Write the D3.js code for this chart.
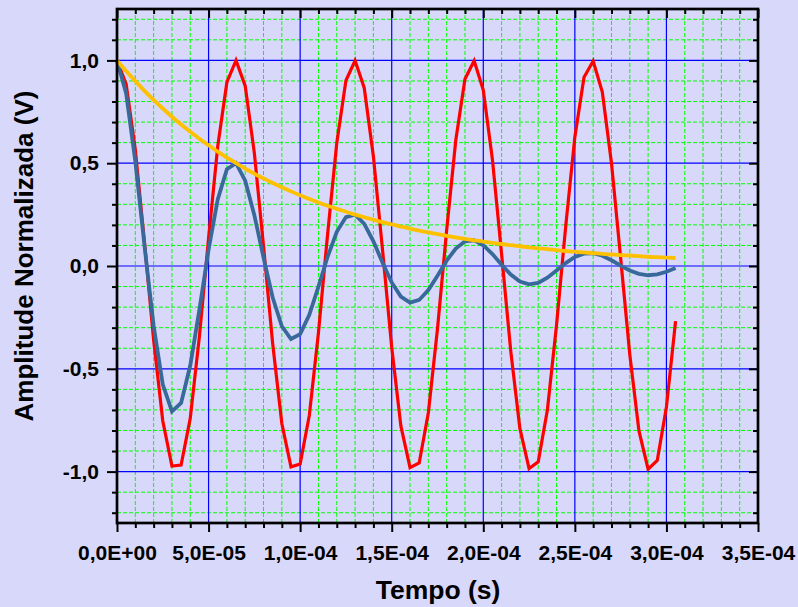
<!DOCTYPE html>
<html>
<head>
<meta charset="utf-8">
<script src="https://cdn.jsdelivr.net/npm/d3@7"></script>
<style>
  body { margin: 0; background: #d8d8fa; }
  svg { display: block; }
  text { font-family: Arial, "Liberation Sans", sans-serif; font-weight: bold; fill: #000; }
</style>
</head>
<body>
<svg id="chart" width="798" height="607"></svg>
<script>
// sample times in microseconds
const timeUs = [0, 5, 10, 15, 20, 25, 30, 35, 40, 45, 50, 55, 60, 65, 70, 75, 80, 85, 90, 95,
  100, 105, 110, 115, 120, 125, 130, 135, 140, 145, 150, 155, 160, 165, 170, 175, 180, 185, 190, 195,
  200, 205, 210, 215, 220, 225, 230, 235, 240, 245, 250, 255, 260, 265, 270, 275, 280, 285, 290, 295,
  300, 305];

// undamped signal (red)
const signalRed = [1.000, 0.885, 0.566, 0.116, -0.360, -0.754, -0.973, -0.968, -0.741, -0.342,
  0.135, 0.582, 0.894, 1.000, 0.876, 0.549, 0.097, -0.378, -0.766, -0.977,
  -0.963, -0.727, -0.324, 0.155, 0.598, 0.902, 0.999, 0.866, 0.533, 0.077,
  -0.396, -0.778, -0.981, -0.958, -0.714, -0.305, 0.174, 0.613, 0.910, 0.998,
  0.856, 0.517, 0.058, -0.414, -0.791, -0.985, -0.952, -0.700, -0.287, 0.193,
  0.628, 0.918, 0.997, 0.846, 0.500, 0.039, -0.431, -0.802, -0.988, -0.946,
  -0.686, -0.268];

// damped signal (blue)
const signalBlue = [1.000, 0.839, 0.509, 0.099, -0.291, -0.577, -0.707, -0.666, -0.484, -0.212,
  0.079, 0.324, 0.471, 0.500, 0.415, 0.247, 0.041, -0.153, -0.293, -0.355,
  -0.331, -0.237, -0.100, 0.045, 0.166, 0.238, 0.250, 0.205, 0.120, 0.016,
  -0.080, -0.149, -0.178, -0.165, -0.117, -0.047, 0.026, 0.085, 0.120, 0.125,
  0.101, 0.058, 0.006, -0.042, -0.076, -0.089, -0.082, -0.057, -0.022, 0.014,
  0.044, 0.060, 0.062, 0.050, 0.028, 0.002, -0.022, -0.038, -0.045, -0.041,
  -0.028, -0.010];

// envelope (yellow)
const envelope = [1.000, 0.948, 0.899, 0.852, 0.808, 0.766, 0.726, 0.688, 0.653, 0.619,
  0.587, 0.556, 0.527, 0.500, 0.474, 0.449, 0.426, 0.404, 0.383, 0.363,
  0.344, 0.326, 0.309, 0.293, 0.278, 0.264, 0.250, 0.237, 0.225, 0.213,
  0.202, 0.192, 0.182, 0.172, 0.163, 0.155, 0.147, 0.139, 0.132, 0.125,
  0.119, 0.112, 0.107, 0.101, 0.096, 0.091, 0.086, 0.082, 0.077, 0.073,
  0.070, 0.066, 0.063, 0.059, 0.056, 0.053, 0.051, 0.048, 0.045, 0.043,
  0.041, 0.039];

const xMajor = [0, 5e-5, 1e-4, 1.5e-4, 2e-4, 2.5e-4, 3e-4, 3.5e-4];
const xTickLabels = ["0,0E+00", "5,0E-05", "1,0E-04", "1,5E-04", "2,0E-04", "2,5E-04", "3,0E-04", "3,5E-04"];
const yMajor = [-1, -0.5, 0, 0.5, 1];
const yTickLabels = ["-1,0", "-0,5", "0,0", "0,5", "1,0"];
const xMinor = d3.range(0, 36).filter(i => i % 5 !== 0).map(i => i * 1e-5);
const yMinor = d3.range(-12, 13).filter(i => i % 5 !== 0).map(i => i / 10);

const plotLeft = 117, plotRight = 758, plotTop = 9, plotBottom = 523;

const svg = d3.select("#chart");
svg.append("rect").attr("width", 798).attr("height", 607).attr("fill", "#d8d8fa");

const x = d3.scaleLinear().domain([0, 3.5e-4]).range([plotLeft, plotRight]);
const y = d3.scaleLinear().domain([-1.25, 1.25]).range([plotBottom, plotTop]);

// grid
const grid = svg.append("g");
grid.selectAll(".minor-x").data(xMinor).enter().append("line")
  .attr("x1", d => x(d)).attr("x2", d => x(d)).attr("y1", plotTop).attr("y2", plotBottom)
  .attr("stroke", "#00ff00").attr("stroke-width", 1).attr("stroke-dasharray", "4,2");
grid.selectAll(".minor-y").data(yMinor).enter().append("line")
  .attr("x1", plotLeft).attr("x2", plotRight).attr("y1", d => y(d)).attr("y2", d => y(d))
  .attr("stroke", "#00ff00").attr("stroke-width", 1).attr("stroke-dasharray", "4,2");
grid.selectAll(".major-x").data(xMajor.slice(1, -1)).enter().append("line")
  .attr("x1", d => x(d)).attr("x2", d => x(d)).attr("y1", plotTop).attr("y2", plotBottom)
  .attr("stroke", "#0000ff").attr("stroke-width", 1.2);
grid.selectAll(".major-y").data(yMajor).enter().append("line")
  .attr("x1", plotLeft).attr("x2", plotRight).attr("y1", d => y(d)).attr("y2", d => y(d))
  .attr("stroke", "#0000ff").attr("stroke-width", 1.2);

// series
const pts = (vals) => vals.map((v, i) => [timeUs[i] * 1e-6, v]);
const line = d3.line().x(d => x(d[0])).y(d => y(d[1]));
svg.append("path").attr("d", line(pts(signalRed)))
  .attr("fill", "none").attr("stroke", "#ff0000").attr("stroke-width", 3.2);
svg.append("path").attr("d", line(pts(signalBlue)))
  .attr("fill", "none").attr("stroke", "#39699a").attr("stroke-width", 3.8);
svg.append("path").attr("d", line.curve(d3.curveMonotoneX)(pts(envelope)))
  .attr("fill", "none").attr("stroke", "#ffc000").attr("stroke-width", 3.8);

// axes
function styleAxis(g) {
  g.select(".domain").remove();
  g.selectAll(".tick line").attr("stroke", "#000").attr("stroke-width", 2);
  g.selectAll(".tick text").style("font-size", "21px").attr("fill", "#000");
}
const noLabel = () => "";

svg.append("g").attr("transform", `translate(${plotLeft},0)`)
  .call(d3.axisLeft(y).tickValues(yMajor).tickSize(10).tickPadding(8).tickFormat((d, i) => yTickLabels[i]))
  .call(styleAxis);
svg.append("g").attr("transform", `translate(${plotLeft},0)`)
  .call(d3.axisLeft(y).tickValues(yMinor).tickSize(5).tickFormat(noLabel)).call(styleAxis);
svg.append("g").attr("transform", `translate(${plotRight},0)`)
  .call(d3.axisLeft(y).tickValues(yMajor).tickSize(9).tickFormat(noLabel)).call(styleAxis);
svg.append("g").attr("transform", `translate(${plotRight},0)`)
  .call(d3.axisLeft(y).tickValues(yMinor).tickSize(5).tickFormat(noLabel)).call(styleAxis);

svg.append("g").attr("transform", `translate(0,${plotBottom})`)
  .call(d3.axisBottom(x).tickValues(xMajor).tickSize(9).tickPadding(13).tickFormat((d, i) => xTickLabels[i]))
  .call(styleAxis);
svg.append("g").attr("transform", `translate(0,${plotBottom})`)
  .call(d3.axisBottom(x).tickValues(xMinor).tickSize(5).tickFormat(noLabel)).call(styleAxis);
svg.append("g").attr("transform", `translate(0,${plotTop})`)
  .call(d3.axisBottom(x).tickValues(xMajor).tickSize(9).tickFormat(noLabel)).call(styleAxis);
svg.append("g").attr("transform", `translate(0,${plotTop})`)
  .call(d3.axisBottom(x).tickValues(xMinor).tickSize(5).tickFormat(noLabel)).call(styleAxis);

// frame
svg.append("rect").attr("x", plotLeft).attr("y", plotTop)
  .attr("width", plotRight - plotLeft).attr("height", plotBottom - plotTop)
  .attr("fill", "none").attr("stroke", "#000").attr("stroke-width", 2.7);

// axis titles
svg.append("text").attr("x", 438).attr("y", 599).attr("text-anchor", "middle")
  .style("font-size", "26.5px").text("Tempo (s)");
svg.append("text").attr("transform", "translate(33,256) rotate(-90)").attr("text-anchor", "middle")
  .style("font-size", "26px").text("Amplitude Normalizada (V)");
</script>
</body>
</html>
